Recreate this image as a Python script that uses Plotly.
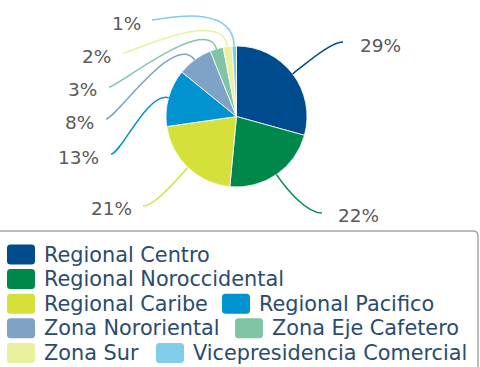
import math
import plotly.graph_objects as go

# Share of sales by region
regions = [
    "Regional Centro",
    "Regional Noroccidental",
    "Regional Caribe",
    "Regional Pacifico",
    "Zona Nororiental",
    "Zona Eje Cafetero",
    "Zona Sur",
    "Vicepresidencia Comercial",
]
shares = [29, 22, 21, 13, 8, 3, 2, 1]
colors = ["#004B8D", "#00884B", "#D6E03B", "#0093D0",
          "#7FA3C7", "#7FC4A5", "#EAF19E", "#80CCEB"]

W, H = 480, 367
CX, CY, R = 236.5, 116.5, 70.5          # pie centre and radius, px


def px(x, y):
    """pixel -> paper coordinates"""
    return x / W, 1 - y / H


fig = go.Figure(go.Pie(
    labels=regions,
    values=shares,
    sort=False,
    direction="clockwise",
    rotation=0,
    marker=dict(colors=colors, line=dict(color="white", width=0.8)),
    textinfo="none",
    hoverinfo="label+value",
    showlegend=False,
    domain=dict(x=[(CX - R) / W, (CX + R) / W],
                y=[1 - (CY + R) / H, 1 - (CY - R) / H]),
))

# label placement: (line end x, line end y, text anchor x, text y, side, radial length, end length)
label_layout = [
    (343, 42, 358, 46, "left", 20, 12),
    (322, 213, 336, 215, "left", 20, 15),
    (143, 206, 134, 208, "right", 15, 12),
    (111, 154, 101, 157, "right", 22, 10),
    (106, 119, 96, 123, "right", 35, 10),
    (109, 87, 99, 89, "right", 36, 8),
    (123, 53, 113, 56, "right", 40, 8),
    (152, 20, 143, 23, "right", 45, 8),
]

shapes = []
annotations = []
total = sum(shares)
cum = 0
for v, col, lay in zip(shares, colors, label_layout):
    mid = (cum + v / 2) / total * 2 * math.pi
    cum += v
    ux, uy = math.sin(mid), -math.cos(mid)
    sx, sy = CX + R * ux, CY + R * uy
    ex, ey, tx, ty, side, l1, l2 = lay
    c1x, c1y = sx + ux * l1, sy + uy * l1
    c2x = ex - l2 if side == "left" else ex + l2
    c2y = ey
    pts = [px(sx, sy), px(c1x, c1y), px(c2x, c2y), px(ex, ey)]
    path = "M{:.5f},{:.5f} C{:.5f},{:.5f} {:.5f},{:.5f} {:.5f},{:.5f}".format(
        *[c for p in pts for c in p])
    shapes.append(dict(type="path", xref="paper", yref="paper", path=path,
                       line=dict(color=col, width=1.5)))
    ax, ay = px(tx, ty)
    annotations.append(dict(
        x=ax, y=ay, xref="paper", yref="paper", text=f"{v}%",
        showarrow=False, xanchor="left" if side == "left" else "right",
        yanchor="middle", font=dict(family="DejaVu Sans", size=18.5, color="#595959"),
    ))

# legend frame (rounded top-right corner, runs off the page edges)
p0, p1, p2, p3, p4 = px(-5, 231), px(473, 231), px(478, 231), px(478, 236), px(478, 375)
shapes.append(dict(
    type="path", xref="paper", yref="paper",
    path=f"M{p0[0]},{p0[1]} L{p1[0]},{p1[1]} Q{p2[0]},{p2[1]} {p3[0]},{p3[1]} L{p4[0]},{p4[1]}",
    line=dict(color="#A6A6A6", width=1.5)))

# legend rows: (series index, key x position)
legend_rows = [[(0, 7)], [(1, 7)], [(2, 7), (3, 222)], [(4, 7), (5, 235)], [(6, 7), (7, 156)]]
row_y0, row_step = 254.5, 24.6
key_w, key_h, rad = 28, 20, 3.5
for r, row in enumerate(legend_rows):
    yc = row_y0 + r * row_step
    for idx, kx in row:
        x0, x1 = kx, kx + key_w
        y0, y1 = yc - key_h / 2, yc + key_h / 2
        corners = [
            px(x0 + rad, y0), px(x1 - rad, y0), px(x1, y0), px(x1, y0 + rad),
            px(x1, y1 - rad), px(x1, y1), px(x1 - rad, y1), px(x0 + rad, y1),
            px(x0, y1), px(x0, y1 - rad), px(x0, y0 + rad), px(x0, y0),
        ]
        c = [f"{a:.5f},{b:.5f}" for a, b in corners]
        path = (f"M{c[0]} L{c[1]} Q{c[2]} {c[3]} L{c[4]} Q{c[5]} {c[6]} "
                f"L{c[7]} Q{c[8]} {c[9]} L{c[10]} Q{c[11]} {c[0]} Z")
        shapes.append(dict(type="path", xref="paper", yref="paper", path=path,
                           fillcolor=colors[idx], line=dict(width=0)))
        lx, ly = px(kx + key_w + 7, yc)
        annotations.append(dict(
            x=lx, y=ly, xref="paper", yref="paper", text=regions[idx],
            showarrow=False, xanchor="left", yanchor="middle",
            font=dict(family="DejaVu Sans", size=20.8, color="#2A4B6E"),
        ))

fig.update_layout(
    width=W, height=H,
    margin=dict(l=0, r=0, t=0, b=0),
    paper_bgcolor="white",
    plot_bgcolor="white",
    shapes=shapes,
    annotations=annotations,
)

fig.write_html("out.html")
